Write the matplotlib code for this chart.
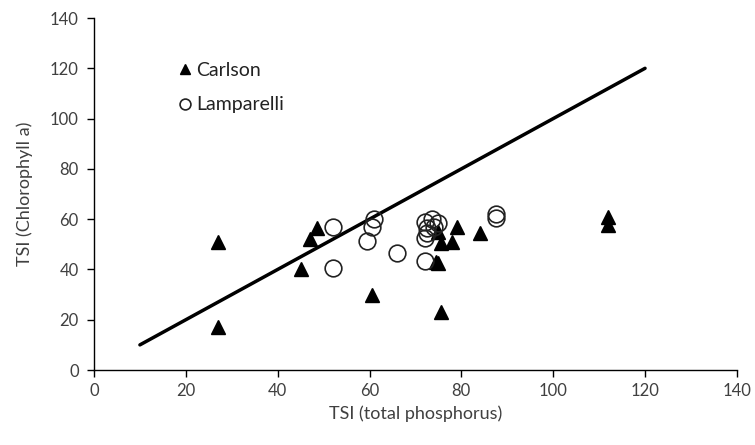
import matplotlib
matplotlib.use("Agg")
import matplotlib.pyplot as plt

# Carlson TSI points (TSI(TP), TSI(Chl a))
carlson_tp = [27, 27, 45, 47, 48.5, 60.5, 74.5, 75, 75.5, 75, 75.5, 78, 79, 84, 112, 112]
carlson_chl = [51, 17, 40, 52, 56.5, 30, 43, 42.5, 23, 55, 50.5, 51, 57, 54.5, 61, 57.5]

# Lamparelli TSI points
lamp_tp = [52, 52, 61, 60.5, 59.5, 66, 72, 72, 72, 72.5, 73.5, 75, 74, 72.5, 87.5, 87.5]
lamp_chl = [57, 40.5, 60, 57, 51.5, 46.5, 52.5, 43.5, 59, 56.5, 60, 58.5, 57, 54.5, 62, 60.5]

# 1:1 reference line
line_x = [10, 120]
line_y = [10, 120]

plt.rcParams['font.family'] = ['Lato', 'DejaVu Sans']
txt = '#404040'

fig = plt.figure(figsize=(7.55, 4.45), dpi=100)
ax = fig.add_axes([0.1245, 0.1685, 0.8515, 0.791])

ax.plot(line_x, line_y, color='black', lw=2.5, solid_capstyle='round', zorder=2)
ax.plot(carlson_tp, carlson_chl, linestyle='none', marker='^', ms=10,
        color='black', label='Carlson', zorder=3)
ax.plot(lamp_tp, lamp_chl, linestyle='none', marker='o', ms=12,
        markerfacecolor='none', markeredgecolor='#222222', mew=1.2,
        label='Lamparelli', zorder=3)

ax.set_xlim(0, 140)
ax.set_ylim(0, 140)
ax.set_xticks(range(0, 141, 20))
ax.set_yticks(range(0, 141, 20))
ax.spines['top'].set_visible(False)
ax.spines['right'].set_visible(False)
for s in ['left', 'bottom']:
    ax.spines[s].set_linewidth(1.0)
ax.tick_params(axis='both', direction='out', length=5, width=1.0,
               labelsize=12, labelcolor=txt)
ax.tick_params(axis='x', pad=4)
ax.tick_params(axis='y', pad=6)

ax.set_xlabel('TSI (total phosphorus)', fontsize=13, color=txt, labelpad=5)
ax.set_ylabel('TSI (Chlorophyll a)', fontsize=13, color=txt, labelpad=12)

leg = ax.legend(loc='upper left', bbox_to_anchor=(0.1, 0.925), frameon=False,
                fontsize=14, markerscale=0.65, handletextpad=0.15,
                handlelength=0.9, labelspacing=0.9)
for t in leg.get_texts():
    t.set_color('#222222')

fig.savefig('out.png', dpi=100)
